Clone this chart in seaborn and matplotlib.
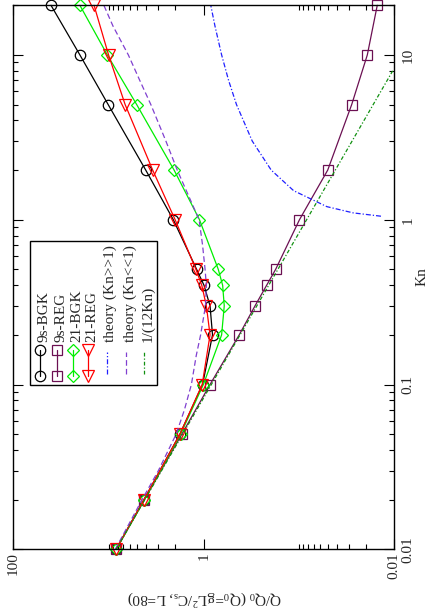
import numpy as np
import pandas as pd
import matplotlib
matplotlib.use("Agg")
import matplotlib.pyplot as plt
import seaborn as sns
from matplotlib.lines import Line2D
from matplotlib.patches import Rectangle
from matplotlib.ticker import FixedLocator, FixedFormatter, NullFormatter, LogLocator

# Knudsen numbers of the simulations
kn = [0.01, 0.02, 0.05, 0.1, 0.2, 0.3, 0.4, 0.5, 1, 2, 5, 10, 20]

# mass flow rate Q/Q0
q_9s_bgk = [8.35, 4.25, 1.78, 1.03, 0.81, 0.86, 0.995, 1.19, 2.09, 4.07, 10.1, 20.0, 40.2]
q_9s_reg = [8.3, 4.2, 1.70, 0.86, 0.425, 0.29, 0.219, 0.176, 0.099, 0.050, 0.028, 0.0192, 0.0151]
q_21_bgk = [8.3, 4.2, 1.75, 1.01, 0.65, 0.61, 0.634, 0.705, 1.11, 2.05, 5.07, 10.3, 20.0]
q_21_reg = [8.35, 4.25, 1.78, 1.04, 0.86, 0.94, 1.05, 1.21, 2.0, 3.44, 6.7, 10.0, 14.2]

# theory (Kn>>1)
kn_free = [1.05, 1.1, 1.2, 1.5, 2, 3, 5, 7, 10, 15, 20]
q_free = [0.0138, 0.027, 0.051, 0.114, 0.196, 0.31, 0.454, 0.549, 0.65, 0.764, 0.845]

# theory (Kn<<1)
kn_slip = [0.01, 0.02, 0.03, 0.05, 0.07, 0.1, 0.15, 0.2, 0.3, 0.4, 0.5, 0.7, 1, 2, 3, 5, 7, 10, 15, 20]
q_slip = [8.5, 4.45, 3.0, 1.95, 1.6, 1.35, 1.2, 1.08, 0.96, 0.94, 0.97, 1.03, 1.12, 1.9, 2.5, 3.6, 4.7, 6.2, 9.0, 11.2]

# 1/(12Kn)
kn_poi = [0.01, 0.1, 1, 8.0]
q_poi = [8.33, 0.833, 0.0833, 0.0104]

q_ticks = [100, 1, 0.01]
q_tick_labels = ['100', '1', '0.01']
kn_ticks = [0.01, 0.1, 1, 10]
kn_tick_labels = ['0.01', '0.1', '1', '10']

legend_labels = ['9s-BGK', '9s-REG', '21-BGK', '21-REG',
                 'theory (Kn>>1)', 'theory (Kn<<1)', '1/(12Kn)']

sns.set_style("ticks")
plt.rcParams['font.family'] = ['Liberation Serif', 'DejaVu Serif']
plt.rcParams['mathtext.fontset'] = 'custom'
plt.rcParams['mathtext.rm'] = 'Liberation Serif'
plt.rcParams['mathtext.it'] = 'Liberation Serif:italic'
plt.rcParams['font.size'] = 11

W, H = 428, 608
fig = plt.figure(figsize=(W / 100, H / 100), dpi=100)
x0, x1, y0, y1 = 13.3, 394.3, 5.3, 549.3
ax = fig.add_axes([x0 / W, 1 - y1 / H, (x1 - x0) / W, (y1 - y0) / H])
ax.set_xscale('log')
ax.set_yscale('log')

# the chart is drawn turned a quarter turn: Q runs right-to-left, Kn upwards
styles = [
    dict(color='black', marker='o', ms=7.5, ls='-'),
    dict(color='#6b1052', marker='s', ms=6.8, ls='-'),
    dict(color='#00ee00', marker='D', ms=6.0, ls='-'),
    dict(color='#ff0000', marker='v', ms=8.0, ls='-'),
    dict(color='#2020ff', marker=None, ms=0, ls=(0, (4, 1.6, 1, 1.6))),
    dict(color='#8040d0', marker=None, ms=0, ls=(0, (4.5, 2.5))),
    dict(color='#109010', marker=None, ms=0, ls=(0, (3, 1.6, 1, 1.6))),
]

series = [(q_9s_bgk, kn), (q_9s_reg, kn), (q_21_bgk, kn), (q_21_reg, kn),
          (q_free, kn_free), (q_slip, kn_slip), (q_poi, kn_poi)]

for (qv, kv), st in zip(series, styles):
    df = pd.DataFrame({'q': qv, 'kn': kv})
    if st['marker']:
        sns.lineplot(data=df, x='q', y='kn', sort=False, estimator=None, ax=ax,
                     color=st['color'], lw=0.9, marker=st['marker'], markersize=st['ms'],
                     markerfacecolor='none', mec=st['color'], mew=0.9, clip_on=False)
    else:
        sns.lineplot(data=df, x='q', y='kn', sort=False, estimator=None, ax=ax,
                     color=st['color'], lw=0.9, linestyle=st['ls'])

ax.set_xlim(100, 0.01)
ax.set_ylim(0.01, 20)
ax.set_xlabel('')
ax.set_ylabel('')

ax.xaxis.set_major_locator(FixedLocator(q_ticks))
ax.xaxis.set_major_formatter(FixedFormatter(q_tick_labels))
ax.xaxis.set_minor_locator(FixedLocator([k * 1.0 for k in range(2, 11)] +
                                        [k * 0.01 for k in range(2, 11)]))
ax.xaxis.set_minor_formatter(NullFormatter())
ax.yaxis.set_major_locator(FixedLocator(kn_ticks))
ax.yaxis.set_major_formatter(FixedFormatter(kn_tick_labels))
ax.yaxis.set_minor_locator(LogLocator(base=10, subs=range(2, 10)))
ax.yaxis.set_minor_formatter(NullFormatter())

ax.tick_params(which='both', direction='in', top=True, bottom=True, left=True, right=True,
               labelleft=False, labelright=True, width=0.8, color='black', labelsize=11)
ax.tick_params(which='major', length=7)
ax.tick_params(which='minor', length=3.5)
ax.tick_params(axis='x', labelrotation=90, pad=2)
ax.tick_params(axis='y', labelrotation=90, pad=5)
for lbl in ax.get_yticklabels():
    lbl.set_va('center')
for sp in ax.spines.values():
    sp.set_linewidth(1.0)
    sp.set_color('black')

fig.text(421.7 / W, 1 - 277 / H, 'Kn', rotation=90, ha='center', va='center', fontsize=11)
fig.text(203.8 / W, 1 - 596.7 / H, r'Q/Q$_0$ (Q$_0$=gL$^2$/C$_{\mathrm{s}}$, L=80)',
         rotation=180, ha='center', va='center', fontsize=11)

# legend, drawn by hand because it is turned too
def px(x, y):
    return x / W, 1 - y / H

bx, by = px(30, 385)
fig.add_artist(Rectangle((bx, by), 127 / W, 144 / H, transform=fig.transFigure,
                         facecolor='white', edgecolor='black', lw=1.0, zorder=5))
lx = [40, 56.7, 72.7, 88.3, 106.5, 126, 144.3]
for x, lab, st in zip(lx, legend_labels, styles):
    if st['marker']:
        xa, ya = px(x, 376)
        xb, yb = px(x, 350)
        fig.add_artist(Line2D([xa, xb], [ya, yb], transform=fig.transFigure,
                              color=st['color'], lw=0.9, marker=st['marker'], ms=st['ms'],
                              mfc='none', mec=st['color'], mew=0.9, zorder=6))
    else:
        xa, ya = px(x, 374)
        xb, yb = px(x, 352)
        fig.add_artist(Line2D([xa, xb], [ya, yb], transform=fig.transFigure,
                              color=st['color'], lw=0.9, ls=st['ls'], zorder=6))
    tx, ty = px(x + 4, 342)
    fig.text(tx, ty, lab, rotation=90, ha='center', va='bottom', fontsize=11, zorder=7)

fig.savefig('out.png', dpi=100)
